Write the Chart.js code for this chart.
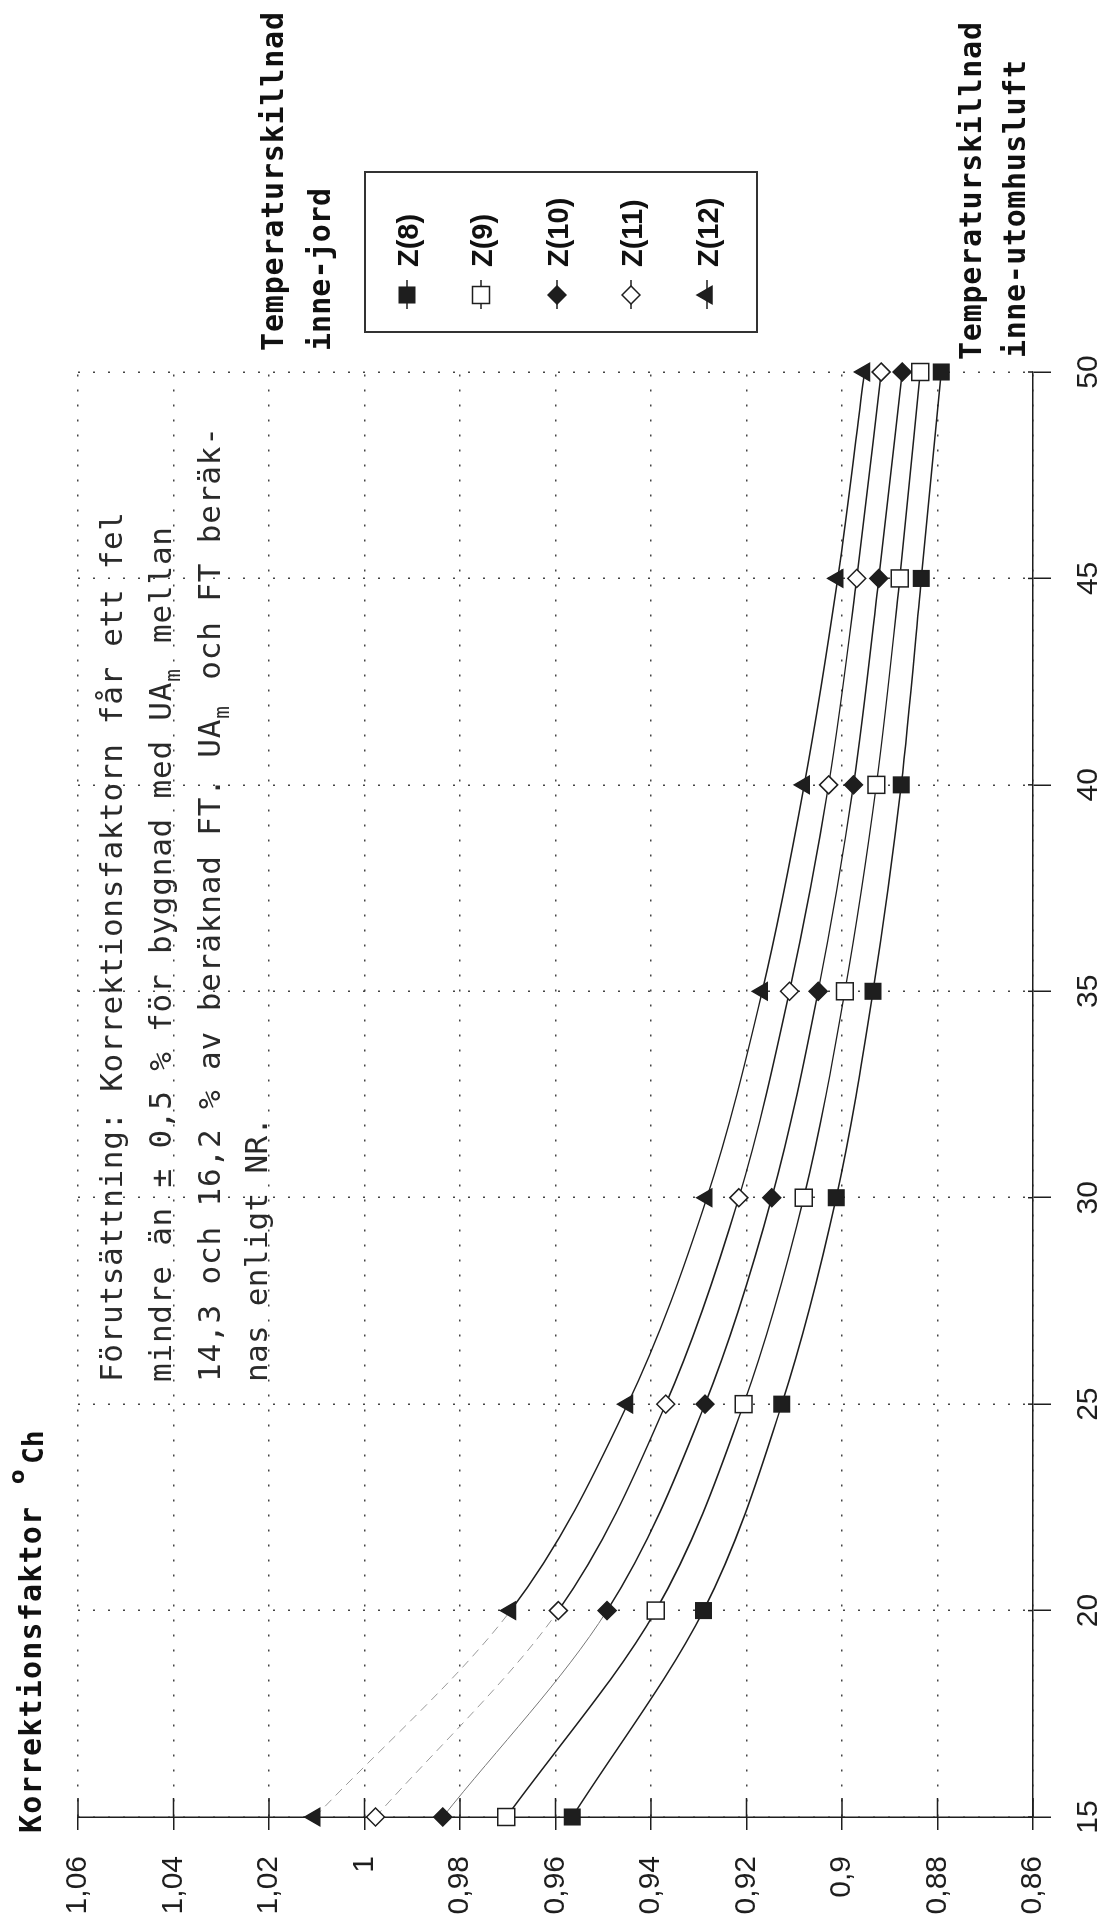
<!DOCTYPE html>
<html>
<head>
<meta charset="utf-8">
<script src="https://cdn.jsdelivr.net/npm/chart.js@4.4.1/dist/chart.umd.min.js"></script>
<style>
html, body { margin: 0; padding: 0; background: #fff; overflow: hidden; }
#page { position: relative; width: 1111px; height: 1918px; }
/* the chart is drawn upright and turned a quarter turn, like the scanned page */
#frame { position: absolute; left: 0; top: 0; width: 1918px; height: 1111px;
         transform-origin: 0 0; transform: translateY(1918px) rotate(-90deg); }
</style>
</head>
<body>
<div id="page"><div id="frame"><canvas id="chart" width="1918" height="1111"></canvas></div></div>
<script>
// Temperaturskillnad inne-utomhusluft
const temps = [15, 20, 25, 30, 35, 40, 45, 50];

// Korrektionsfaktor per inne-jord difference
const z8  = [0.9565, 0.929,  0.9126, 0.9012, 0.8935, 0.8876, 0.8834, 0.8792];
const z9  = [0.9703, 0.939,  0.9206, 0.908,  0.8994, 0.8928, 0.8879, 0.8836];
const z10 = [0.9836, 0.9492, 0.9287, 0.9147, 0.905,  0.8976, 0.8923, 0.8874];
const z11 = [0.9977, 0.9594, 0.9369, 0.9216, 0.911,  0.9028, 0.8969, 0.8918];
const z12 = [1.0104, 0.9694, 0.9449, 0.9283, 0.9167, 0.9079, 0.9009, 0.8953];
const seriesNames = ['Z(8)', 'Z(9)', 'Z(10)', 'Z(11)', 'Z(12)'];

const xTickValues = [15, 20, 25, 30, 35, 40, 45, 50];
const yTickValues = [0.86, 0.88, 0.90, 0.92, 0.94, 0.96, 0.98, 1.00, 1.02, 1.04, 1.06];
const yTickLabels = ['0,86', '0,88', '0,9', '0,92', '0,94', '0,96', '0,98', '1', '1,02', '1,04', '1,06'];

const noteLines = [
    ['Förutsättning: Korrektionsfaktorn får ett fel'],
    ['mindre än ± 0,5 % för byggnad med UA', ['m'], ' mellan'],
    ['14,3 och 16,2 % av beräknad FT. UA', ['m'], ' och FT beräk-'],
    ['nas enligt NR.']
];

const ink = '#1e1e1e';
const styles = [
    { pointStyle: 'rect',     radius: 11, fill: ink,    faint: null,   dash: null },
    { pointStyle: 'rect',     radius: 12, fill: '#fff', faint: null,   dash: null },
    { pointStyle: 'rectRot',  radius: 9,  fill: ink,    faint: '#777', dash: null },
    { pointStyle: 'rectRot',  radius: 9,  fill: '#fff', faint: '#999', dash: [9, 6] },
    { pointStyle: 'triangle', radius: 10, fill: ink,    faint: '#999', dash: [9, 6] }
];

const allSeries = [z8, z9, z10, z11, z12];
const datasets = allSeries.map((vals, k) => {
    const st = styles[k];
    return {
        label: seriesNames[k],
        data: temps.map((t, i) => ({ x: t, y: vals[i] })),
        borderColor: ink,
        borderWidth: 1.5,
        cubicInterpolationMode: 'monotone',
        pointStyle: st.pointStyle,
        pointRadius: st.radius,
        pointBackgroundColor: st.fill,
        pointBorderColor: ink,
        pointBorderWidth: 1.5,
        clip: false,
        segment: {
            borderColor: c => (c.p0DataIndex === 0 && st.faint) ? st.faint : undefined,
            borderDash: c => (c.p0DataIndex === 0 && st.dash) ? st.dash : undefined,
            borderWidth: c => (c.p0DataIndex === 0 && st.faint) ? 1 : undefined
        }
    };
});

// typewriter style line: characters spread evenly between x0 and x1
function typeLine(ctx, parts, x0, x1, y, font, subFont) {
    const chars = [];
    parts.forEach(p => {
        const sub = Array.isArray(p);
        for (const ch of (sub ? p[0] : p)) chars.push({ ch, sub });
    });
    ctx.font = font;
    const lastW = ctx.measureText(chars[chars.length - 1].ch).width;
    const step = (x1 - x0 - lastW) / (chars.length - 1);
    chars.forEach((c, i) => {
        ctx.font = c.sub ? subFont : font;
        ctx.fillText(c.ch, x0 + i * step, c.sub ? y + 9 : y);
    });
}

function marker(ctx, st, x, y) {
    ctx.fillStyle = st.fill;
    ctx.strokeStyle = ink;
    ctx.lineWidth = 1.5;
    Chart.helpers.drawPoint(ctx, { pointStyle: st.pointStyle, radius: st.radius, rotation: 0, borderWidth: 1.5 }, x, y);
}

const overlay = {
    id: 'overlay',
    afterDraw(chart) {
        const ctx = chart.ctx;
        const area = chart.chartArea;
        const xs = chart.scales.x, ys = chart.scales.y;
        ctx.save();

        // tick marks inside the axes
        ctx.strokeStyle = ink;
        ctx.lineWidth = 1.5;
        ctx.setLineDash([]);
        ctx.beginPath();
        yTickValues.forEach(v => {
            const py = ys.getPixelForValue(v);
            ctx.moveTo(area.left, py); ctx.lineTo(area.left + 19, py);
        });
        xTickValues.forEach(v => {
            const px = xs.getPixelForValue(v);
            ctx.moveTo(px, area.bottom); ctx.lineTo(px, area.bottom - 5);
        });
        ctx.stroke();

        ctx.textAlign = 'left';
        ctx.textBaseline = 'alphabetic';

        // axis title
        ctx.fillStyle = '#111';
        const bold = 'bold 30px "DejaVu Sans Mono"';
        typeLine(ctx, ['Korrektionsfaktor'], 85, 411, 41, bold, bold);
        ctx.font = 'bold 21px "DejaVu Sans"';
        ctx.fillText('o', 434, 24);
        ctx.font = 'bold 28px "DejaVu Sans Mono"';
        ctx.fillText('Ch', 454, 43);

        // note
        ctx.fillStyle = '#2a2a2a';
        const reg = '31px "DejaVu Sans Mono"';
        const sub = '21px "DejaVu Sans Mono"';
        const ends = [1406, 1391, 1491, 801];
        const bases = [122, 171, 220, 267];
        noteLines.forEach((ln, i) => typeLine(ctx, ln, 536, ends[i], bases[i], reg, sub));

        // legend title and box
        ctx.fillStyle = '#111';
        typeLine(ctx, ['Temperaturskillnad'], 1567, 1906, 283, bold, bold);
        typeLine(ctx, ['inne-jord'], 1567, 1730, 330, bold, bold);
        ctx.strokeStyle = '#333';
        ctx.lineWidth = 2;
        ctx.strokeRect(1586, 365, 160, 392);
        const rows = [407, 481, 557, 631, 707];
        chart.data.datasets.forEach((ds, k) => {
            const y = rows[k];
            ctx.strokeStyle = ink; ctx.lineWidth = 1.5;
            ctx.beginPath(); ctx.moveTo(1609, y); ctx.lineTo(1638, y); ctx.stroke();
            marker(ctx, styles[k], 1623, y);
            ctx.fillStyle = '#111';
            ctx.font = 'bold 29px "Liberation Sans"';
            ctx.textBaseline = 'middle';
            ctx.fillText(ds.label, 1651, y + 3);
            ctx.textBaseline = 'alphabetic';
        });

        // x axis title
        ctx.fillStyle = '#111';
        typeLine(ctx, ['Temperaturskillnad'], 1558, 1896, 981, bold, bold);
        typeLine(ctx, ['inne-utomhusluft'], 1560, 1858, 1025, bold, bold);

        ctx.restore();
    }
};

new Chart(document.getElementById('chart'), {
    type: 'line',
    data: { datasets },
    options: {
        responsive: false,
        devicePixelRatio: 1,
        animation: false,
        layout: { padding: { left: 0, right: 372, top: 78, bottom: 0 } },
        plugins: { legend: { display: false }, tooltip: { enabled: false } },
        scales: {
            x: {
                type: 'linear',
                min: 15,
                max: 50,
                afterFit: s => { s.height = 78; },
                afterBuildTicks: s => { s.ticks = xTickValues.map(v => ({ value: v })); },
                ticks: {
                    color: ink,
                    padding: 20,
                    font: { family: 'Liberation Sans', size: 30 },
                    callback: v => String(v)
                },
                grid: {
                    color: '#444',
                    lineWidth: 1.5,
                    tickLength: 18,
                    tickColor: ink,
                    tickWidth: 1.5,
                    tickBorderDash: []
                },
                border: { display: true, color: ink, width: 1.5, dash: [2, 13] }
            },
            y: {
                type: 'linear',
                min: 0.86,
                max: 1.06,
                afterFit: s => { s.width = 101; },
                afterBuildTicks: s => { s.ticks = yTickValues.map(v => ({ value: v })); },
                ticks: {
                    color: ink,
                    padding: 26,
                    font: { family: 'Liberation Sans', size: 30 },
                    callback: (v, i) => yTickLabels[i]
                },
                grid: {
                    color: '#444',
                    lineWidth: 1.5,
                    tickLength: 13,
                    tickColor: ink,
                    tickWidth: 1.5,
                    tickBorderDash: []
                },
                border: { display: true, color: ink, width: 1.5, dash: [2, 13] }
            }
        }
    },
    plugins: [overlay]
});
</script>
</body>
</html>
